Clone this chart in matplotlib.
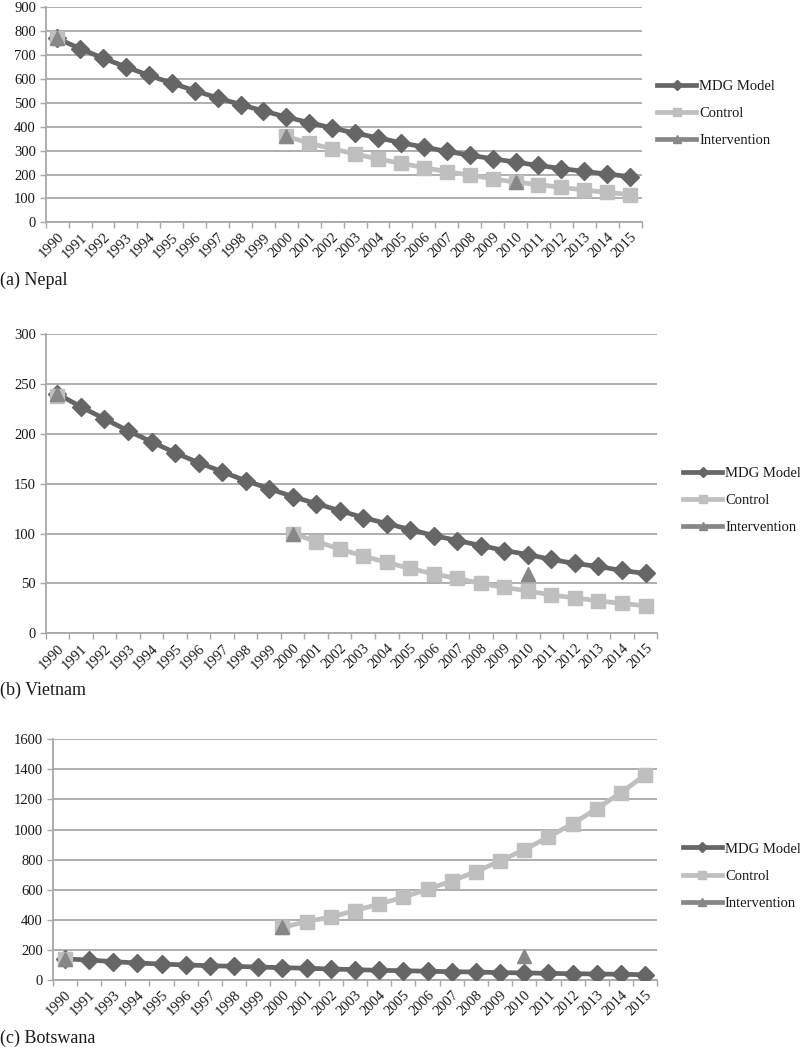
import numpy as np
import matplotlib
matplotlib.use("Agg")
import matplotlib.pyplot as plt
from matplotlib.lines import Line2D

plt.rcParams['font.family'] = ['Liberation Serif', 'DejaVu Serif']

years_full = [str(y) for y in range(1990, 2016)]
years_bw = ['1990', '1991'] + [str(y) for y in range(1993, 2016)]

nan = np.nan

# Nepal
nepal_mdg = [770, 727, 687, 651, 615, 583, 551, 521, 493, 466, 441, 417, 395, 373, 354,
             333, 315, 297, 281, 266, 252, 238, 225, 213, 202, 191]
nepal_control = [770] + [nan] * 9 + [360, 331, 308, 286, 265, 247, 229, 212, 198, 182,
                                     168, 158, 146, 135, 125, 116]
nepal_interv = [772] + [nan] * 9 + [362] + [nan] * 9 + [170] + [nan] * 5

# Vietnam
vn_mdg = [240, 227, 215, 203, 192, 181, 171, 162, 153, 145, 137, 130, 123, 116, 110,
          104, 98, 93, 88, 83, 79, 74, 70, 67, 63, 60]
vn_control = [238] + [nan] * 9 + [100, 92, 84.5, 77.5, 71, 65, 59.5, 55, 50, 46,
                                  42.5, 38.5, 35.5, 32.5, 30, 27.5]
vn_interv = [240] + [nan] * 9 + [100] + [nan] * 9 + [59] + [nan] * 5

# Botswana (axis categories: 1992 not shown)
bw_mdg = [140, 133, 122, 113, 106, 100, 95, 91, 86, 82, 78, 73, 69, 64,
          62, 58, 55, 53, 49, 47, 44, 42, 40, 38, 35]
bw_control = [140] + [nan] * 8 + [350, 388, 419, 461, 505, 550, 603, 658, 720, 791,
                                  866, 951, 1039, 1139, 1245, 1363]
bw_interv = [140] + [nan] * 8 + [350] + [nan] * 9 + [160] + [nan] * 5

series_names = ['MDG Model', 'Control', 'Intervention']
c_mdg = '#666666'
c_ctl = '#bfbfbf'
c_int = '#878787'
grid_c = '#a8a8a8'
txt_c = '#1a1a1a'

fig = plt.figure(figsize=(8, 10.47), dpi=100)

panels = [
    dict(rect=[0.0571, 0.7877, 0.7449, 0.2053], labels=years_full,
         data=(nepal_mdg, nepal_control, nepal_interv), ymax=900, step=100,
         leg=(1.026, 0.508), title='(a) Nepal', ty=1 - 280 / 1047),
    dict(rect=[0.0571, 0.3951, 0.7645, 0.2859], labels=years_full,
         data=(vn_mdg, vn_control, vn_interv), ymax=300, step=50,
         leg=(1.042, 0.445), title='(b) Vietnam', ty=1 - 690 / 1047),
    dict(rect=[0.0659, 0.0640, 0.7557, 0.2299], labels=years_bw,
         data=(bw_mdg, bw_control, bw_interv), ymax=1600, step=200,
         leg=(1.042, 0.432), title='(c) Botswana', ty=1 - 1038 / 1047),
]

for p in panels:
    ax = fig.add_axes(p['rect'])
    n = len(p['labels'])
    x = np.arange(n)
    mdg, ctl, itv = p['data']
    ax.plot(x, mdg, color=c_mdg, lw=3.4, marker='D', ms=9, mec=c_mdg, zorder=3)
    ax.plot(x, ctl, color=c_ctl, lw=3.4, marker='s', ms=10, mec=c_ctl, zorder=4)
    ax.plot(x, itv, color=c_int, lw=3.4, marker='^', ms=10, mec=c_int, zorder=5)

    ax.set_xlim(-0.5, n - 0.5)
    ax.set_ylim(0, p['ymax'])
    ax.set_yticks(np.arange(0, p['ymax'] + 1, p['step']))
    ax.yaxis.grid(True, color=grid_c, lw=1.3)
    ax.set_axisbelow(True)
    ax.set_xticks(x)
    ax.set_xticklabels(p['labels'], rotation=45, ha='right', rotation_mode='anchor',
                       fontsize=10.5, color=txt_c)
    ax.set_xticks(np.arange(-0.5, n, 1.0), minor=True)
    ax.tick_params(axis='x', which='major', length=0, pad=6)
    ax.tick_params(axis='x', which='minor', length=4, width=1, color=grid_c, direction='out')
    ax.tick_params(axis='y', length=4, width=1, color=grid_c, labelsize=10.5,
                   labelcolor=txt_c, pad=3)
    for s in ['top', 'right']:
        ax.spines[s].set_visible(False)
    for s in ['left', 'bottom']:
        ax.spines[s].set_color(grid_c)
        ax.spines[s].set_linewidth(1.3)

    handles = [
        Line2D([], [], color=c_mdg, lw=3.4, marker='D', ms=5),
        Line2D([], [], color=c_ctl, lw=3.4, marker='s', ms=6),
        Line2D([], [], color=c_int, lw=3.4, marker='^', ms=6),
    ]
    leg = ax.legend(handles, series_names, loc='center left', bbox_to_anchor=p['leg'],
                    frameon=False, fontsize=10.5, handlelength=2.7, handletextpad=0.2,
                    labelspacing=0.95, borderpad=0, borderaxespad=0)
    for t in leg.get_texts():
        t.set_color(txt_c)

    fig.text(0.0, p['ty'], p['title'], fontsize=13, color=txt_c, va='center', ha='left')

fig.savefig('out.png', dpi=100)
